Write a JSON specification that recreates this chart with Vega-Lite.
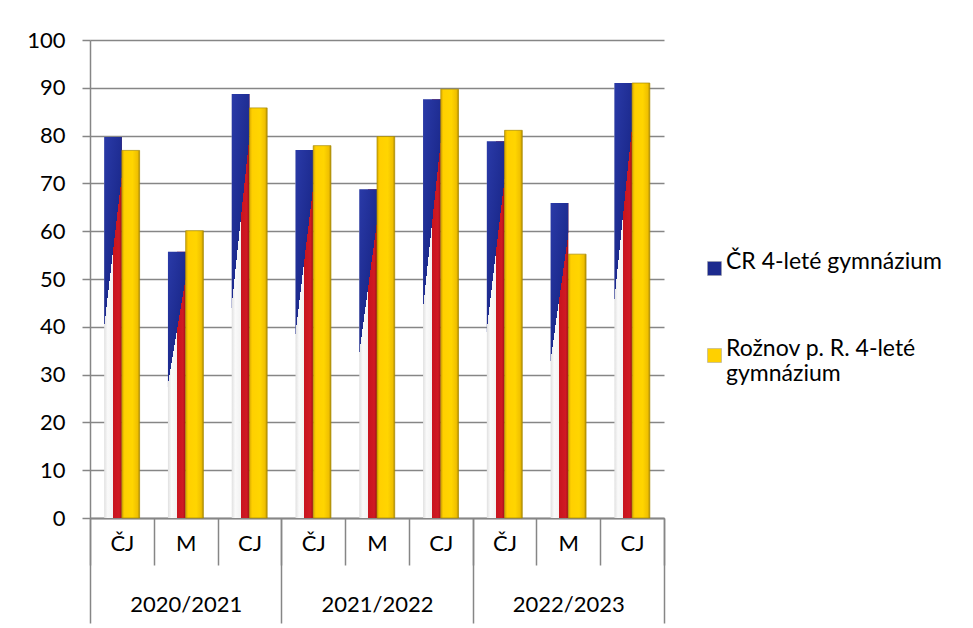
{
  "$schema": "https://vega.github.io/schema/vega-lite/v6.json",
  "width": 574,
  "height": 478,
  "autosize": {"type": "none"},
  "padding": {"left": 90, "top": 40, "right": 309, "bottom": 110},
  "background": "white",
  "config": {
    "view": {"stroke": null},
    "axis": {
      "domainColor": "#868686", "domainWidth": 1.5,
      "tickColor": "#868686", "tickWidth": 1.5,
      "gridColor": "#868686", "gridWidth": 1.5,
      "labelFont": "Lato", "labelFontSize": 22, "labelColor": "#000000",
      "title": null
    },
    "legend": {"labelFont": "Lato", "labelFontSize": 23, "labelColor": "#000000", "labelLineHeight": 33}
  },
  "data": {
    "values": [
      {"year": "2020/2021", "subject": "ČJ", "cat": "2020/2021|ČJ", "series": "ČR 4-leté gymnázium", "value": 79.7},
      {"year": "2020/2021", "subject": "ČJ", "cat": "2020/2021|ČJ", "series": "Rožnov p. R. 4-leté gymnázium", "value": 76.9},
      {"year": "2020/2021", "subject": "M", "cat": "2020/2021|M", "series": "ČR 4-leté gymnázium", "value": 55.7},
      {"year": "2020/2021", "subject": "M", "cat": "2020/2021|M", "series": "Rožnov p. R. 4-leté gymnázium", "value": 60.1},
      {"year": "2020/2021", "subject": "CJ", "cat": "2020/2021|CJ", "series": "ČR 4-leté gymnázium", "value": 88.7},
      {"year": "2020/2021", "subject": "CJ", "cat": "2020/2021|CJ", "series": "Rožnov p. R. 4-leté gymnázium", "value": 85.8},
      {"year": "2021/2022", "subject": "ČJ", "cat": "2021/2022|ČJ", "series": "ČR 4-leté gymnázium", "value": 77.0},
      {"year": "2021/2022", "subject": "ČJ", "cat": "2021/2022|ČJ", "series": "Rožnov p. R. 4-leté gymnázium", "value": 77.9},
      {"year": "2021/2022", "subject": "M", "cat": "2021/2022|M", "series": "ČR 4-leté gymnázium", "value": 68.8},
      {"year": "2021/2022", "subject": "M", "cat": "2021/2022|M", "series": "Rožnov p. R. 4-leté gymnázium", "value": 79.8},
      {"year": "2021/2022", "subject": "CJ", "cat": "2021/2022|CJ", "series": "ČR 4-leté gymnázium", "value": 87.6},
      {"year": "2021/2022", "subject": "CJ", "cat": "2021/2022|CJ", "series": "Rožnov p. R. 4-leté gymnázium", "value": 89.7},
      {"year": "2022/2023", "subject": "ČJ", "cat": "2022/2023|ČJ", "series": "ČR 4-leté gymnázium", "value": 78.8},
      {"year": "2022/2023", "subject": "ČJ", "cat": "2022/2023|ČJ", "series": "Rožnov p. R. 4-leté gymnázium", "value": 81.1},
      {"year": "2022/2023", "subject": "M", "cat": "2022/2023|M", "series": "ČR 4-leté gymnázium", "value": 65.9},
      {"year": "2022/2023", "subject": "M", "cat": "2022/2023|M", "series": "Rožnov p. R. 4-leté gymnázium", "value": 55.2},
      {"year": "2022/2023", "subject": "CJ", "cat": "2022/2023|CJ", "series": "ČR 4-leté gymnázium", "value": 91.0},
      {"year": "2022/2023", "subject": "CJ", "cat": "2022/2023|CJ", "series": "Rožnov p. R. 4-leté gymnázium", "value": 91.0}
    ]
  },
  "resolve": {"scale": {"x": "independent"}, "axis": {"x": "independent"}},
  "layer": [
    {
      "encoding": {
        "x": {
          "field": "cat", "type": "nominal",
          "sort": ["2020/2021|ČJ", "2020/2021|M", "2020/2021|CJ", "2021/2022|ČJ", "2021/2022|M", "2021/2022|CJ", "2022/2023|ČJ", "2022/2023|M", "2022/2023|CJ"],
          "scale": {"paddingInner": 0, "paddingOuter": 0},
          "axis": {
            "orient": "bottom", "tickBand": "extent", "tickSize": 47,
            "labelPadding": -22, "labelBaseline": "middle", "labelAngle": 0,
            "labelExpr": "split(datum.value, '|')[1]", "grid": false
          }
        },
        "xOffset": {
          "field": "series", "type": "nominal",
          "sort": ["ČR 4-leté gymnázium", "Rožnov p. R. 4-leté gymnázium"],
          "scale": {"paddingInner": 0, "paddingOuter": 0.8}
        },
        "y": {
          "field": "value", "type": "quantitative",
          "scale": {"domain": [0, 100], "nice": false},
          "axis": {
            "values": [0, 10, 20, 30, 40, 50, 60, 70, 80, 90, 100],
            "grid": true, "tickSize": 8, "labelPadding": 17
          }
        }
      },
      "layer": [
        {
          "transform": [{"filter": "datum.series === 'ČR 4-leté gymnázium'"}],
          "mark": {
            "type": "bar",
            "fill": {"gradient": "linear", "x1": 0, "y1": 0, "x2": 1, "y2": 0,
              "stops": [
                {"offset": 0, "color": "#e0e0e0"},
                {"offset": 0.2, "color": "#fafafa"},
                {"offset": 0.5, "color": "#f2f2f2"},
                {"offset": 0.5, "color": "#c8141e"},
                {"offset": 0.85, "color": "#d01a24"},
                {"offset": 1, "color": "#9e0f16"}
              ]}
          }
        },
        {
          "transform": [{"filter": "datum.series === 'ČR 4-leté gymnázium'"}],
          "mark": {
            "type": "bar",
            "fill": {"gradient": "linear", "x1": 0, "y1": 0, "x2": 0.4, "y2": 1,
              "stops": [
                {"offset": 0, "color": "#2a3aa8"},
                {"offset": 0.43, "color": "#1c2a8e"},
                {"offset": 0.43, "color": "rgba(255,255,255,0)"},
                {"offset": 1, "color": "rgba(255,255,255,0)"}
              ]}
          }
        },
        {
          "transform": [{"filter": "datum.series === 'Rožnov p. R. 4-leté gymnázium'"}],
          "mark": {
            "type": "bar",
            "stroke": "#a88a00", "strokeWidth": 0.7,
            "fill": {"gradient": "linear", "x1": 0, "y1": 0, "x2": 1, "y2": 0,
              "stops": [
                {"offset": 0, "color": "#d9aa00"},
                {"offset": 0.15, "color": "#ffd000"},
                {"offset": 0.6, "color": "#ffd500"},
                {"offset": 0.88, "color": "#f0c000"},
                {"offset": 1, "color": "#b08c00"}
              ]}
          }
        }
      ]
    },
    {
      "mark": {"type": "point", "filled": true, "shape": "square", "opacity": 0},
      "encoding": {
        "x": {
          "field": "year", "type": "nominal",
          "scale": {"type": "band", "paddingInner": 0, "paddingOuter": 0},
          "axis": {
            "orient": "bottom", "tickBand": "extent", "tickSize": 105,
            "labelPadding": -19, "labelBaseline": "middle", "labelAngle": 0, "grid": false
          }
        },
        "y": {"field": "value", "type": "quantitative"},
        "color": {
          "field": "series", "type": "nominal",
          "sort": ["ČR 4-leté gymnázium", "Rožnov p. R. 4-leté gymnázium"],
          "scale": {"range": ["#1c2a8e", "#ffd000"]},
          "legend": {
            "title": null, "orient": "none", "legendX": 613, "legendY": 217,
            "symbolType": "square", "symbolSize": 196, "symbolOpacity": 1,
            "symbolStrokeColor": "#a0a0a0", "symbolStrokeWidth": 0.5,
            "labelLimit": 400, "labelOffset": 0, "rowPadding": 60, "labelBaseline": "alphabetic",
            "labelExpr": "datum.label === 'Rožnov p. R. 4-leté gymnázium' ? ['Rožnov p. R. 4-leté', 'gymnázium'] : datum.label"
          }
        }
      }
    }
  ]
}
